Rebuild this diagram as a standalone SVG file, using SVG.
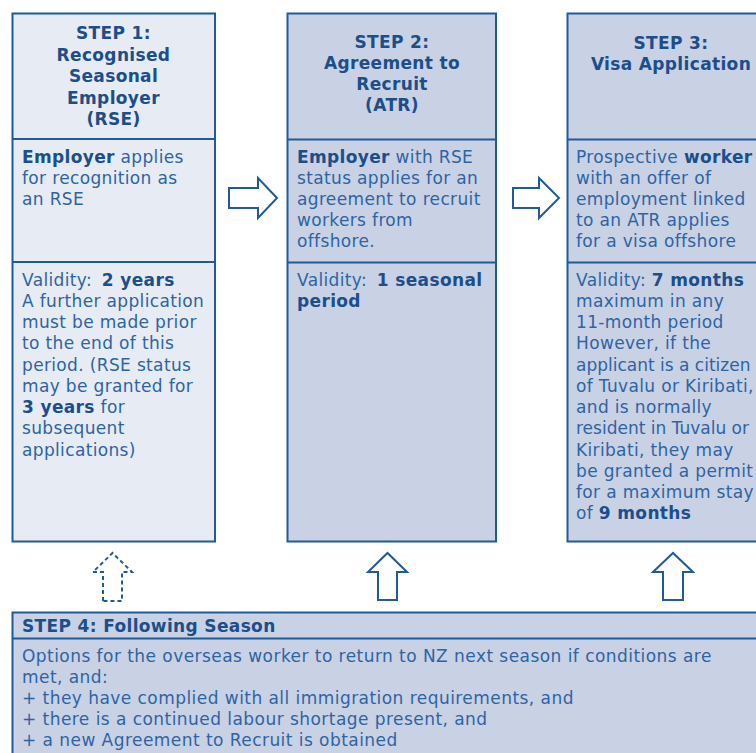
<svg xmlns="http://www.w3.org/2000/svg" width="756" height="753" viewBox="0 0 756 753">
<style>
.box{stroke:#1F5B97;stroke-width:2}
.f1{fill:#E7EBF4}
.f2{fill:#C9D1E5}
.ln{stroke:#1F5B97;stroke-width:2;fill:none}
text{font-family:"DejaVu Sans",Verdana,sans-serif;font-size:17px;fill:#2E64A3;letter-spacing:0.35px}
.b{font-weight:bold;fill:#1C4E8A}
.c{text-anchor:middle}
.wide{letter-spacing:0.45px}
.tight{letter-spacing:0px}
.arr{fill:#FFFFFF;stroke:#1F5B97;stroke-width:2;stroke-linejoin:miter}
.dash{stroke-dasharray:4 3}
</style>
<rect width="756" height="753" fill="#FFFFFF"/>

<g id="step1">
<rect class="box f1" x="12.5" y="13.5" width="202.5" height="528"/>
<line class="ln" x1="12.5" y1="139" x2="215" y2="139"/>
<line class="ln" x1="12.5" y1="262" x2="215" y2="262"/>
<text class="b c" x="113.5" y="39">STEP 1:</text>
<text class="b c" x="113.5" y="60.5">Recognised</text>
<text class="b c" x="113.5" y="82">Seasonal</text>
<text class="b c" x="113.5" y="103.5">Employer</text>
<text class="b c" x="113.5" y="124.5">(RSE)</text>
<text x="22" y="163"><tspan class="b">Employer</tspan> applies</text>
<text x="22" y="184">for recognition as</text>
<text x="22" y="205">an RSE</text>
<text x="22" y="285.5">Validity: <tspan class="b" dx="4">2 years</tspan></text>
<text x="22" y="306.75">A further application</text>
<text x="22" y="328">must be made prior</text>
<text x="22" y="349.25">to the end of this</text>
<text x="22" y="370.5">period. (RSE status</text>
<text x="22" y="391.75">may be granted for</text>
<text x="22" y="413"><tspan class="b">3 years</tspan> for</text>
<text x="22" y="434.25">subsequent</text>
<text x="22" y="455.5">applications)</text>
</g>

<g id="step2">
<rect class="box f2" x="287.5" y="13.5" width="208.5" height="528"/>
<line class="ln" x1="287.5" y1="139.5" x2="496" y2="139.5"/>
<line class="ln" x1="287.5" y1="262.5" x2="496" y2="262.5"/>
<text class="b c" x="392" y="48">STEP 2:</text>
<text class="b c" x="392" y="68.5">Agreement to</text>
<text class="b c" x="392" y="89.5">Recruit</text>
<text class="b c" x="392" y="110.5">(ATR)</text>
<text x="297" y="163"><tspan class="b">Employer</tspan> with RSE</text>
<text x="297" y="184">status applies for an</text>
<text x="297" y="205">agreement to recruit</text>
<text x="297" y="226">workers from</text>
<text x="297" y="247">offshore.</text>
<text x="297" y="285.5">Validity: <tspan class="b" dx="4">1 seasonal</tspan></text>
<text x="297" y="306.75" class="b">period</text>
</g>

<g id="step3">
<rect class="box f2" x="567.5" y="13.5" width="210" height="528"/>
<line class="ln" x1="567.5" y1="139.5" x2="778" y2="139.5"/>
<line class="ln" x1="567.5" y1="262.5" x2="778" y2="262.5"/>
<text class="b c" x="671" y="49">STEP 3:</text>
<text class="b c" x="671" y="70">Visa Application</text>
<text x="576" y="163">Prospective <tspan class="b">worker</tspan></text>
<text x="576" y="184">with an offer of</text>
<text x="576" y="205">employment linked</text>
<text x="576" y="226">to an ATR applies</text>
<text x="576" y="247">for a visa offshore</text>
<text x="576" y="285.5">Validity: <tspan class="b">7 months</tspan></text>
<text x="576" y="306.75">maximum in any</text>
<text x="576" y="328">11-month period</text>
<text x="576" y="349.25">However, if the</text>
<text class="tight" x="576" y="370.5">applicant is a citizen</text>
<text x="576" y="391.75">of Tuvalu or Kiribati,</text>
<text x="576" y="413">and is normally</text>
<text class="tight" x="576" y="434.25">resident in Tuvalu or</text>
<text x="576" y="455.5">Kiribati, they may</text>
<text x="576" y="476.75">be granted a permit</text>
<text x="576" y="498">for a maximum stay</text>
<text x="576" y="519.25">of <tspan class="b">9 months</tspan></text>
</g>

<g id="step4">
<rect class="box f2" x="12.5" y="612.5" width="770" height="160"/>
<line class="ln" x1="12.5" y1="638.5" x2="782" y2="638.5"/>
<text class="b" x="22" y="632">STEP 4: Following Season</text>
<text class="wide" x="22" y="662">Options for the overseas worker to return to NZ next season if conditions are</text>
<text class="wide" x="22" y="682.5">met, and:</text>
<text class="wide" x="22" y="703.5">+ they have complied with all immigration requirements, and</text>
<text class="wide" x="22" y="725">+ there is a continued labour shortage present, and</text>
<text class="wide" x="22" y="746">+ a new Agreement to Recruit is obtained</text>
</g>

<g id="connectors">
<path class="arr" d="M229,188 H258 V178 L277,198 L258,218 V208 H229 Z"/>
<path class="arr" d="M513,188 H539 V178 L559,198 L539,218 V208 H513 Z"/>
<path class="arr dash" d="M103,601 V572 H93 L112.5,553 L132,572 H122 V601 Z"/>
<path class="arr" d="M378,600 V572 H368 L387.5,553 L407,572 H397 V600 Z"/>
<path class="arr" d="M663,600 V572 H653 L673,553 L693,572 H683 V600 Z"/>
</g>
</svg>
